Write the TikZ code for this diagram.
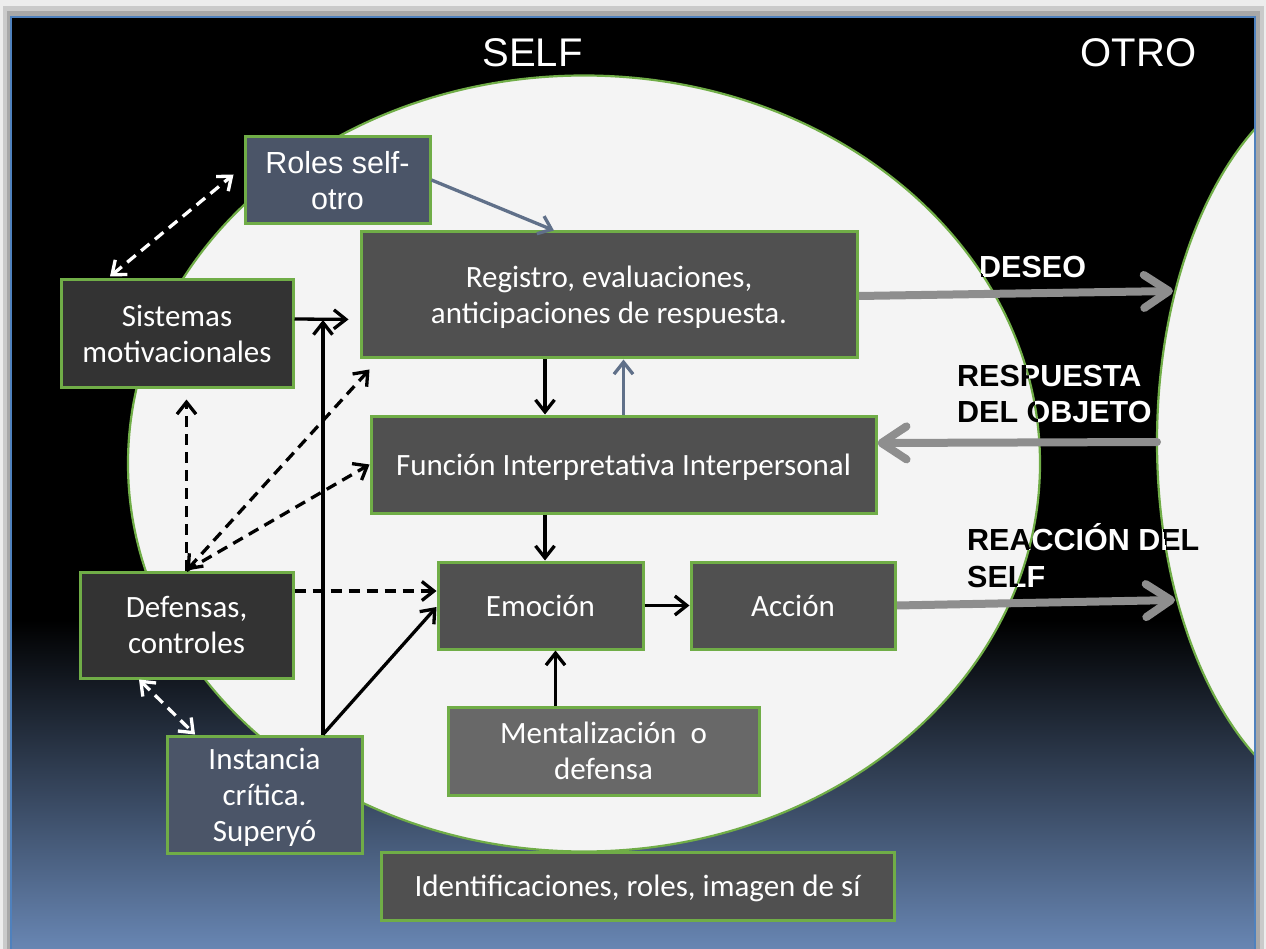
\documentclass[tikz,border=0pt]{standalone}
\usepackage{fontspec}
\setmainfont{Carlito}
\newfontfamily\arialf{Liberation Sans}
\usetikzlibrary{arrows.meta,calc}
\definecolor{grn}{HTML}{70AD47}
\definecolor{boxmid}{HTML}{505050}
\definecolor{boxdark}{HTML}{333333}
\definecolor{boxlight}{HTML}{686868}
\definecolor{boxslate}{HTML}{4B5568}
\definecolor{slate}{HTML}{607089}
\definecolor{gryarrow}{HTML}{8E8E8E}
\definecolor{elfill}{HTML}{F4F4F4}
\definecolor{bgblue}{HTML}{6886B3}
\definecolor{frameblue}{HTML}{4F81BD}
\definecolor{shadA}{HTML}{EDEDED}
\definecolor{shadB}{HTML}{CACACA}
\definecolor{shadC}{HTML}{A8A8A8}
\newcommand\dualtext[3]{%
  \node[lbl,text=white,anchor=base west] (#1) at #2 {#3};
  \begin{scope}
    \clip (584,463.5) ellipse [x radius=456, y radius=388]
          (1370,442) ellipse [x radius=213, y radius=372];
    \node[lbl,text=black,anchor=base west] (#1b) at #2 {#3};
  \end{scope}}
\begin{document}
\begin{tikzpicture}[x=1pt,y=-1pt,
  box/.style={draw=grn, line width=3pt, text=white, align=center, inner sep=0pt,
    text depth=0pt, font=\fontsize{31}{36}\selectfont},
  ttl/.style={text=white, inner sep=0pt, font=\arialf\fontsize{40}{48}\selectfont},
  lbl/.style={inner sep=0pt, font=\arialf\bfseries\fontsize{30.5}{36}\selectfont},
  blk/.style={draw=black, line width=3.3pt, >={Straight Barb[length=12pt,width=19pt]}, ->},
  blkd/.style={blk, dash pattern=on 11pt off 7pt},
  blkdd/.style={blkd, <->},
  slt/.style={blk, draw=slate},
  whtd/.style={blk, draw=white, dash pattern=on 11pt off 7pt, <->},
  gry/.style={draw=gryarrow, line width=8pt, line cap=round,
    >={Straight Barb[length=25pt,width=33pt,round]}, ->}
]
\useasboundingbox (0,0) rectangle (1266,949);
% shadow frame
\fill[shadA] (0,0) rectangle (1266,949);
\fill[shadB] (3,6) rectangle (1264,949);
\fill[shadC] (7,11) rectangle (1260,949);
% inner background
\begin{scope}
  \clip (11,17) rectangle (1255,949);
  \fill[black] (11,17) rectangle (1255,949);
  \shade[top color=black, bottom color=bgblue] (11,620) rectangle (1255,949);
  \filldraw[fill=elfill, draw=grn, line width=2.2pt] (584,463.5) ellipse [x radius=456, y radius=388];
  \filldraw[fill=elfill, draw=grn, line width=2.2pt] (1370,442) ellipse [x radius=213, y radius=372];
\end{scope}
\draw[frameblue, line width=1.5pt] (11,949) -- (11,17) -- (1255,17) -- (1255,949);

% titles
\node[ttl, anchor=base] (tself) at (532.5,67) {SELF};
\node[ttl, anchor=base] (totro) at (1138.5,67) {OTRO};

% coordinates for free ends
\coordinate (j1) at (323,320);
\coordinate (d1) at (1173,291);
\coordinate (r1) at (1157,442);
\coordinate (c1) at (1175,600);

% boxes
\path
  node[box, fill=boxslate, minimum width=185pt, minimum height=87pt,
       font=\arialf\fontsize{30.5}{36}\selectfont] (rol) at (337.5,180) {Roles self-\\otro}
  node[box, fill=boxmid, minimum width=496pt, minimum height=126pt] (reg) at (609,295)
       {Registro, evaluaciones,\\anticipaciones de respuesta.}
  node[box, fill=boxdark, minimum width=232pt, minimum height=107pt] (sis) at (177,333.5)
       {Sistemas\\motivacionales}
  node[box, fill=boxmid, minimum width=505pt, minimum height=97pt] (fun) at (623.5,464.5)
       {Función Interpretativa Interpersonal}
  node[box, fill=boxdark, minimum width=213pt, minimum height=106pt] (def) at (186.5,625)
       {Defensas,\\controles}
  node[box, fill=boxmid, minimum width=205pt, minimum height=87pt] (emo) at (540.5,605.5)
       {Emoción}
  node[box, fill=boxmid, minimum width=204pt, minimum height=87pt] (acc) at (793,605.5)
       {Acción}
  node[box, fill=boxlight, minimum width=311pt, minimum height=88pt] (men) at (603.5,751)
       {Mentalización~~o\\defensa}
  node[box, fill=boxslate, minimum width=195pt, minimum height=117pt] (ins) at (264.5,794.5)
       {Instancia\\crítica.\\Superyó}
  node[box, fill=boxmid, minimum width=513pt, minimum height=68pt] (ide) at (637.5,886)
       {Identificaciones, roles, imagen de sí};

% gray arrows
\draw[gry] ($(reg.east)+(0,1)$) -- (d1);
\draw[gry] (r1) -- ($(fun.east)+(0,-21.5)$);
\draw[gry] (acc.east) -- (c1);

% redraw boxes over gray arrow starts
\path
  node[box, fill=boxmid, minimum width=496pt, minimum height=126pt] (reg2) at (609,295)
       {Registro, evaluaciones,\\anticipaciones de respuesta.}
  node[box, fill=boxmid, minimum width=204pt, minimum height=87pt] (acc2) at (793,605.5)
       {Acción};

% connectors
\draw[slt] (rol.east) -- ($(reg.north)+(-55,0)$);
\draw[blk, shorten >=11pt] ($(sis.east)+(0,-14.5)$) -- ($(reg.west)+(0,24.5)$);
\draw[blk] ($(ins.north)+(58.5,0)$) -- (j1);
\draw[blk] ($(ins.north)+(58.5,0)$) -- ($(emo.west)+(0,1.5)$);
\draw[blk] ($(reg.south)+(-64,0)$) -- ($(reg.south|-fun.north)+(-64,0)$);
\draw[slt] (fun.north) -- (fun.north|-reg.south);
\draw[blk] ($(emo.north|-fun.south)+(4.5,0)$) -- ($(emo.north)+(4.5,0)$);
\draw[blk] (emo.east) -- (acc.west);
\draw[blk] ($(men.north)+(-48,0)$) -- ($(men.north|-emo.south)+(-48,0)$);
\draw[blkd] ($(def.east)+(0,-34)$) -- ($(emo.west)+(0,-14.5)$);
\draw[blkd, shorten >=11pt] (def.north) -- (def.north|-sis.south);
\draw[blkdd] (def.north) -- ($(reg.south west)+(10,10)$);
\draw[blkd] (def.north) -- (fun.west);
\draw[whtd] ($(sis.north)+(-67,-2)$) -- ($(rol.west)+(-10,-5.5)$);
\draw[whtd] ($(def.south)+(-47.5,0)$) -- ($(ins.north)+(-69.5,0)$);

% labels with inverted colours
\dualtext{ldeseo}{(979,278)}{DESEO}
\dualtext{lresp}{(957,387)}{RESPUESTA}
\dualtext{lobj}{(957,422)}{DEL OBJETO}
\dualtext{lreac}{(967,550)}{REACCIÓN DEL}
\dualtext{lself}{(967,587)}{SELF}
\end{tikzpicture}
\end{document}
